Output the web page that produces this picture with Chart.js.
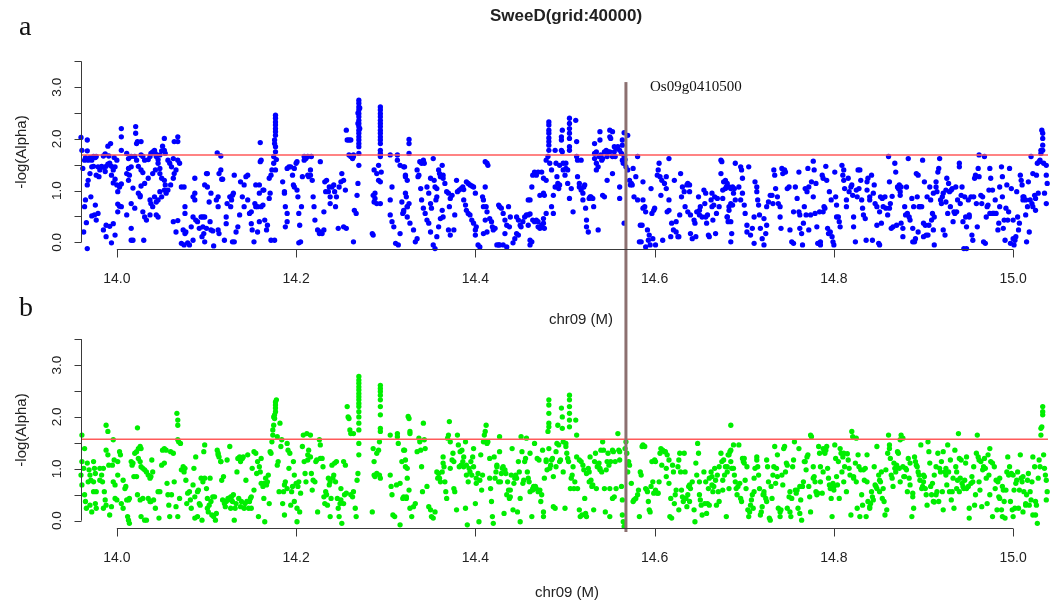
<!DOCTYPE html>
<html lang="en">
<head>
<meta charset="UTF-8">
<title>SweeD(grid:40000)</title>
<script src="https://cdn.jsdelivr.net/npm/chart.js@4.4.1/dist/chart.umd.min.js"></script>
<style>
  html, body { margin:0; padding:0; background:#fff; }
  body { width:1052px; height:604px; position:relative; overflow:hidden; font-family:"Liberation Sans", Arial, sans-serif; color:#222; }
  canvas { position:absolute; left:0; }
  #chartA { top:0; }
  #chartB { top:300px; }
  .txt { position:absolute; white-space:nowrap; }
  .serif { font-family:"Liberation Serif", "Times New Roman", serif; color:#111; }
  .title { left:446px; width:240px; top:7px; text-align:center; font-weight:bold; font-size:17px; line-height:17px; }
  .panel { font-size:28px; line-height:28px; left:19px; }
  .gene { font-size:15px; line-height:15px; left:650px; top:79px; }
  .ylab { font-size:15px; line-height:16px; width:120px; left:-39px; text-align:center; transform:rotate(-90deg); }
  .xlab { font-size:15px; line-height:15px; width:120px; text-align:center; }
</style>
</head>
<body>
<canvas id="chartA" width="1052" height="300"></canvas>
<canvas id="chartB" width="1052" height="304"></canvas>

<div class="txt title">SweeD(grid:40000)</div>
<div class="txt serif panel" style="top:12px">a</div>
<div class="txt serif panel" style="top:293px">b</div>
<div class="txt serif gene">Os09g0410500</div>
<div class="txt ylab" style="top:144px">-log(Alpha)</div>
<div class="txt ylab" style="top:422px">-log(Alpha)</div>
<div class="txt xlab" style="left:521px; top:311px">chr09 (M)</div>
<div class="txt xlab" style="left:507px; top:584px">chr09 (M)</div>

<script>
// axes, thresholds, gene position
const xMin = 13.96, xMax = 15.0389;
const xTicks = [14.0, 14.2, 14.4, 14.6, 14.8, 15.0];
const yTicks = [0, 0.5, 1, 1.5, 2, 2.5, 3, 3.5];
const yTickLabels = ['0.0', '', '1.0', '', '2.0', '', '3.0', ''];
const thrA = 1.69;
const thrB = 1.57;
const geneX = 14.568;

// panel a (blue) : [position Mb, -log(Alpha)]
const aSeg1 = [
[13.960,2.03],[13.961,1.78],[13.964,1.59],[13.962,1.43],[13.967,1.98],[13.967,1.77],[13.965,1.64],[13.968,1.59],[13.970,1.64],[13.972,1.59],[13.974,1.66],[13.976,1.64],[13.977,1.66],[13.979,1.46],[13.974,1.47],[13.972,1.46],[13.970,1.33],[13.968,1.20],[13.967,1.11],[13.965,0.82],[13.964,0.69],[13.971,0.88],[13.976,0.72],[13.975,0.53],[13.972,0.51],[13.966,0.38],[13.963,0.20],[13.967,-0.12],[13.977,0.43],[13.979,0.56],[13.985,0.24],[13.988,0.33],[13.992,0.31],[13.988,0.11],[13.994,-0.01],[13.998,0.14],[13.977,1.30],[13.980,1.27],[13.981,1.40],[13.983,1.47],[13.985,1.45],[13.987,1.37],[13.988,1.47],[13.990,1.51],[13.992,1.53],[13.994,1.47],[13.991,1.67],[13.985,1.67],[13.987,1.71],[13.990,1.86],[13.993,1.91],[13.997,1.64],[14.000,1.59],[13.998,1.46],[13.996,1.40],[13.994,1.30],[13.998,1.22],[13.996,1.15],
[14.000,1.11],[14.003,1.07],[14.005,1.13],[14.001,0.98],[14.001,0.74],[14.003,0.70],[14.005,0.69],[14.001,0.59],[13.996,0.36],[14.011,0.53],[14.005,2.20],[14.005,2.04],[14.005,1.78],[14.011,1.72],[14.013,1.62],[14.016,1.66],[14.016,1.46],[14.013,1.43],[14.011,1.33],[14.014,1.30],[14.013,1.20],[14.018,1.05],[14.016,0.75],[14.020,0.66],[14.024,0.95],[14.026,0.88],[14.027,1.09],[14.031,1.14],[14.035,1.24],[14.029,1.35],[14.027,1.40],[14.024,1.47],[14.022,1.59],[14.020,1.66],[14.021,2.24],[14.021,2.11],[14.023,1.95],[14.027,1.95],[14.022,1.91],[14.027,1.69],[14.029,1.66],[14.031,1.59],[14.035,1.60],[14.037,1.66],[14.038,1.72],[14.040,1.75],[14.042,1.78],[14.043,1.72],[14.044,1.66],[14.046,1.60],[14.048,1.69],[14.050,1.77],[14.051,1.86],[14.053,2.01],[14.053,1.78],[14.054,1.72],[14.046,1.53],[14.048,1.43],[14.043,1.40],[14.040,1.33],[14.048,1.33],[14.050,1.24],[14.053,1.20],[14.054,1.11],[14.057,1.01],[14.060,1.11],[14.063,1.24],[14.064,1.33],[14.066,1.40],[14.061,1.46],[14.059,1.53],[14.057,1.59],[14.063,1.62],[14.064,1.95],[14.068,1.95],[14.068,2.04],[14.068,1.59],[14.070,1.53],[14.048,0.98],[14.050,0.88],[14.046,0.82],[14.044,0.78],[14.040,0.69],[14.044,0.53],[14.046,0.49],[14.037,0.53],[14.033,0.43],[14.031,0.49],[14.029,0.59],[14.026,0.91],[14.037,0.82],[14.038,0.75],[14.042,0.88],[14.053,1.01],[14.055,0.95],[14.016,0.04],[14.018,0.04],[14.030,0.04],[14.016,0.27],
[14.063,0.40],[14.066,0.20],[14.068,0.42],[14.072,1.07],[14.075,1.07],[14.076,0.69],[14.076,0.56],[14.074,0.24],[14.076,0.17],[14.077,0.20],[14.072,-0.02],[14.075,-0.05],[14.079,-0.01],[14.081,-0.05],[14.085,0.04],[14.083,0.30],[14.085,0.49],[14.085,0.88],[14.087,0.95],[14.087,0.82],[14.087,1.24],[14.088,0.43],[14.090,0.40],[14.092,0.27],[14.094,0.49],[14.096,0.49],[14.098,0.49],[14.096,0.30],[14.097,0.17],[14.095,0.11],[14.098,0.01],[14.100,0.27],[14.100,1.33],[14.101,1.33],[14.098,1.11],[14.101,1.07],[14.105,0.95],[14.103,0.78],[14.104,0.40],[14.105,0.24],[14.107,0.22],[14.108,-0.07],[14.111,0.82],[14.112,1.73],[14.113,0.69],[14.113,0.88],[14.114,1.33],[14.116,1.40],[14.116,1.67],[14.117,1.22],[14.118,1.22],[14.113,0.24],[14.114,0.17],[14.120,0.04],[14.122,0.36],[14.122,0.49],[14.123,0.75],[14.126,0.88],[14.127,0.69],[14.128,0.82],[14.129,0.91],[14.130,0.95],[14.131,1.30],[14.133,0.20],[14.131,0.01],[14.129,0.01],[14.135,0.30],[14.137,0.53],[14.138,1.17],[14.140,0.88],[14.142,0.69],[14.142,1.11],[14.144,1.27],[14.146,1.30],[14.146,0.82],[14.148,0.56],[14.150,0.59],[14.150,0.36],[14.151,0.24],[14.153,0.01],[14.154,0.75],[14.155,0.69],[14.155,1.11],[14.157,0.69],[14.157,0.20],[14.159,0.95],[14.159,1.11],[14.159,0.40],[14.161,1.59],[14.160,1.56],[14.160,1.93],[14.161,0.69],[14.163,0.72],[14.163,1.01],[14.164,1.01],[14.165,0.43],[14.167,0.24],[14.168,0.33],[14.170,0.85],[14.171,0.95],[14.170,1.24],[14.172,1.30],[14.172,0.04],[14.176,0.04],[14.173,1.40],[14.175,1.53],[14.175,1.66],[14.176,1.91],[14.176,1.98],
[14.177,2.07],[14.177,2.14],[14.177,2.20],[14.177,2.27],[14.177,2.33],[14.177,2.40],[14.177,2.46],[14.177,1.75],[14.178,1.60],[14.177,1.40],[14.177,1.85]
];
const aSeg2 = [
[14.185,1.17],[14.187,0.98],[14.187,0.95],[14.188,0.69],[14.190,0.40],[14.188,0.30],[14.190,0.56],[14.190,1.43],[14.192,1.46],[14.194,1.46],[14.196,1.30],[14.197,1.11],[14.198,1.07],[14.198,1.43],[14.200,1.53],[14.201,1.56],[14.201,1.01],[14.202,0.88],[14.203,0.56],[14.204,0.33],[14.203,-0.01],[14.205,0.01],[14.206,0.69],[14.207,1.27],[14.209,1.59],[14.209,1.66],[14.211,1.62],[14.213,1.66],[14.213,1.30],[14.214,1.27],[14.216,1.40],[14.216,1.30],[14.217,1.66],[14.218,1.20],[14.219,0.88],[14.220,0.69],[14.221,0.43],[14.224,0.24],[14.226,0.17],[14.227,1.56],[14.227,0.20],[14.229,0.17],[14.231,0.24],[14.231,0.59],[14.232,1.17],[14.233,0.98],[14.234,1.20],[14.236,0.98],[14.237,1.07],[14.238,0.88],[14.238,0.75],[14.240,1.07],[14.242,1.11],[14.243,0.98],[14.244,0.69],[14.245,0.88],[14.247,0.27],[14.248,1.07],[14.250,1.17],[14.251,1.33],[14.253,1.20],[14.253,0.30],[14.255,1.01],[14.256,0.27],[14.256,2.17],[14.257,1.98],[14.259,1.98],[14.259,1.69],[14.261,1.98],[14.261,1.66],[14.263,1.62],[14.264,1.66],[14.264,0.01],[14.264,1.69],[14.265,0.62],[14.267,0.56],[14.268,0.91],[14.269,1.14],[14.270,1.49],[14.270,1.72],
[14.270,1.85],[14.270,1.91],[14.270,1.98],[14.270,2.04],[14.270,2.11],[14.270,2.17],[14.270,2.24],[14.270,2.30],[14.270,2.36],[14.270,2.43],[14.270,2.49],[14.270,2.56],[14.270,2.62],[14.270,2.69],[14.270,2.75],[14.269,2.30],[14.269,2.50],[14.271,2.20],[14.271,2.60],
[14.285,0.17],[14.286,0.14],[14.287,1.40],[14.286,0.91],[14.287,0.78],[14.288,0.85],[14.288,0.95],[14.290,0.75],[14.290,1.33],[14.292,1.20],[14.292,1.49],
[14.294,1.66],[14.294,1.72],[14.294,1.78],[14.294,1.91],[14.294,1.98],[14.294,2.04],[14.294,2.11],[14.294,2.17],[14.294,2.24],[14.294,2.30],[14.294,2.36],[14.294,2.43],[14.294,2.49],[14.294,2.56],[14.294,2.62],[14.294,1.17],[14.294,0.75],[14.295,1.36],
[14.305,1.69],[14.307,1.07],[14.305,0.82],[14.305,0.53],[14.307,0.40],[14.309,0.30],[14.311,-0.02],[14.313,1.69],[14.313,1.59],[14.314,-0.05],[14.316,1.49],[14.316,0.17],[14.318,0.78],[14.319,0.56],[14.320,0.62],[14.321,1.46],[14.322,1.30],[14.323,0.88],[14.324,0.69]
];
const aSeg3 = [
[14.320,1.46],[14.322,1.27],[14.324,1.20],[14.326,1.99],[14.326,1.91],[14.326,1.72],[14.324,0.69],[14.326,0.75],[14.322,0.95],[14.320,0.59],[14.324,0.49],[14.327,0.37],[14.331,0.24],[14.333,0.01],[14.335,0.07],[14.336,1.27],[14.337,1.30],[14.335,1.40],[14.338,1.56],[14.340,1.53],[14.342,1.59],[14.343,1.53],[14.339,1.04],[14.340,0.82],[14.342,0.66],[14.344,0.56],[14.346,1.07],[14.348,0.95],[14.350,1.24],[14.350,0.75],[14.351,0.66],[14.353,1.62],[14.354,1.20],[14.355,1.07],[14.357,1.04],[14.356,0.82],[14.357,0.88],[14.359,1.40],[14.360,1.33],[14.361,1.27],[14.363,1.49],[14.364,1.30],[14.364,1.24],[14.366,1.14],[14.363,0.62],[14.364,0.49],[14.361,0.46],[14.359,0.30],[14.357,0.11],[14.353,-0.05],[14.355,-0.12],[14.350,0.20],[14.348,0.37],[14.346,0.43],
[14.368,0.98],[14.370,0.95],[14.372,0.85],[14.374,0.91],[14.371,0.69],[14.370,0.24],[14.372,0.14],[14.376,0.24],[14.377,0.53],[14.379,1.20],[14.380,0.98],[14.382,1.01],[14.384,1.04],[14.386,1.07],[14.387,1.02],[14.387,0.82],[14.389,0.72],[14.390,1.17],[14.392,1.14],[14.394,1.11],[14.396,1.09],[14.398,1.07],[14.400,0.95],[14.390,0.62],[14.392,0.56],[14.394,0.53],[14.396,0.43],[14.398,0.37],[14.400,0.24],[14.401,0.30],[14.400,0.14],[14.403,-0.05],[14.405,-0.09],[14.408,0.88],[14.409,0.82],[14.411,1.07],[14.411,1.56],[14.413,1.53],[14.414,1.49],[14.409,0.69],[14.412,0.69],[14.413,0.59],[14.411,0.43],[14.409,0.17],[14.413,0.20],[14.416,0.46],[14.418,0.40],[14.419,0.30],[14.420,0.24],[14.422,0.27],[14.424,-0.05],[14.426,-0.05],[14.427,-0.05],[14.426,0.72],[14.427,0.69],[14.429,0.66],[14.431,0.56],[14.433,0.43],[14.435,0.33],[14.437,0.69],[14.439,0.49],[14.438,0.30],[14.433,0.17],[14.431,-0.05],[14.435,-0.09],
[14.446,0.49],[14.448,0.43],[14.450,0.33],[14.451,0.30],[14.446,0.17],[14.448,0.14],[14.444,0.07],[14.442,-0.01],[14.453,0.40],[14.455,0.49],[14.457,0.53],[14.459,0.53],[14.461,0.55],[14.459,0.82],[14.461,0.82],[14.459,0.33],[14.461,0.04],[14.463,0.01],[14.461,-0.05],[14.464,0.43],[14.466,0.40],[14.468,0.43],[14.470,0.40],[14.470,0.30],[14.472,0.27],[14.474,0.33],[14.476,0.37],[14.476,0.46],[14.477,0.27],[14.479,0.56],[14.463,1.07],[14.464,1.30],[14.466,1.36],[14.468,1.30],[14.470,1.36],[14.474,1.36],[14.472,0.91],[14.476,0.95],[14.477,0.91],[14.476,1.24],[14.479,1.20],[14.479,1.59],[14.481,1.66],
[14.482,1.78],[14.482,1.88],[14.482,1.95],[14.482,2.02],[14.482,2.11],[14.482,2.17],[14.482,2.27],[14.482,2.33],
[14.483,1.53],[14.485,1.40],[14.487,0.91],[14.485,0.69],[14.487,0.56],[14.489,1.07],[14.489,1.78],[14.490,1.53],[14.491,1.27],[14.492,1.14],[14.493,1.04],[14.494,1.11],[14.494,1.49],[14.496,1.78],[14.496,1.98],[14.496,2.04],[14.497,2.17],[14.497,1.75],[14.498,1.53],[14.498,1.40],[14.500,1.30],[14.501,1.53],[14.501,1.43],[14.503,1.14],[14.503,1.40],
[14.505,2.40],[14.505,2.30],[14.505,2.20],[14.505,2.11],[14.505,2.01],[14.505,1.85],[14.505,1.78],[14.505,0.85],
[14.507,1.04],[14.509,0.59],[14.512,2.36],[14.513,1.95],[14.513,1.66],[14.514,1.59],[14.514,1.27],[14.516,1.14],[14.516,1.07],[14.518,1.59],[14.518,1.01],[14.520,0.95],[14.520,0.82],[14.521,1.07],[14.522,1.11],[14.523,0.66],[14.524,0.43],[14.524,0.30],[14.526,0.20],[14.527,0.85],[14.528,0.88],[14.529,0.88],[14.531,0.85],[14.532,0.69],[14.533,1.91],[14.533,1.72],[14.533,1.62],[14.535,1.75],[14.535,1.53],[14.535,1.40],[14.537,1.46],[14.537,0.24],[14.539,1.98],[14.539,2.14],[14.538,1.66],[14.540,1.69],[14.541,1.59],[14.542,1.62],[14.542,0.91],[14.544,0.88],[14.544,1.75],[14.546,1.78],[14.547,1.20],[14.547,1.66],[14.548,1.75],[14.550,1.75],[14.550,2.04],[14.550,2.17],[14.551,2.01],[14.553,2.14],[14.553,1.66],[14.553,1.33],[14.555,1.85],[14.555,1.75],[14.556,1.66],[14.557,1.82],[14.559,1.85],[14.561,1.07],[14.561,0.85],[14.561,1.78],[14.563,1.72],[14.564,1.88],[14.564,1.98],[14.564,1.59],[14.565,1.53],[14.566,2.12],[14.566,1.66],[14.566,0.37],[14.567,1.60],[14.568,1.46],[14.570,2.07],
[14.570,1.40],[14.572,1.20],[14.573,1.11],[14.574,1.14],[14.575,1.11],[14.576,1.43],[14.577,0.88],[14.579,1.27],[14.581,1.66],[14.581,0.82],[14.583,0.01],[14.584,0.33],[14.585,0.01],[14.586,0.33],[14.587,0.82],[14.587,1.17],[14.587,0.66],[14.589,0.69],[14.590,0.59],[14.590,-0.09],[14.592,0.24],[14.593,0.04],[14.594,0.14],[14.595,-0.05],[14.596,1.04],[14.597,0.56],[14.598,0.07],[14.599,0.62],[14.600,0.66],[14.601,-0.05],[14.603,1.30],[14.604,1.40],[14.605,1.53],[14.606,1.27],[14.607,0.91],[14.608,1.20],[14.609,0.04],[14.611,1.14],[14.613,1.27],[14.613,1.04],[14.614,0.59],[14.616,0.62],[14.616,0.82],[14.616,1.62],[14.618,0.11],[14.619,0.37],[14.621,0.24],[14.622,1.20],[14.624,0.40],[14.624,0.20],[14.626,0.11],[14.627,0.11],[14.628,0.53],[14.629,1.33],[14.630,0.88],[14.631,1.07],[14.633,0.98],[14.634,0.69],[14.636,1.11],[14.637,1.14],[14.637,0.59],[14.639,1.11],[14.639,0.98],[14.640,0.53],[14.640,0.17],[14.642,0.07],[14.644,0.43],[14.645,0.37],[14.646,0.11],[14.647,0.59],[14.649,0.88],[14.650,0.62],[14.650,0.53],[14.651,0.69],[14.653,0.49],[14.655,1.01],[14.656,0.75],[14.657,0.95],[14.657,0.49],[14.658,0.37],[14.659,0.53],[14.660,0.14],[14.661,0.11],[14.663,0.82],[14.664,0.69],[14.664,0.95],[14.665,0.43],[14.666,0.72],[14.667,0.88],[14.668,0.17],[14.669,0.56],[14.670,0.85],[14.672,0.69],[14.674,1.59],[14.674,1.33],[14.675,1.56],[14.676,1.01],[14.676,0.85],[14.677,1.17],[14.679,1.04],[14.679,1.20],[14.680,1.07],[14.681,0.49],[14.682,0.40],[14.683,0.69],[14.685,0.01],[14.686,0.17]
];
const aSeg4 = [
[14.681,1.14],[14.683,1.07],[14.685,1.04],[14.687,1.07],[14.688,0.95],[14.689,1.04],[14.690,0.82],[14.685,0.75],[14.687,0.72],[14.683,0.62],[14.681,0.49],[14.685,0.40],[14.690,1.53],[14.696,1.46],[14.697,1.40],[14.698,1.24],[14.694,1.07],[14.698,0.95],[14.696,0.82],[14.700,0.72],[14.701,0.56],[14.703,0.33],[14.705,1.46],[14.703,0.20],[14.707,0.14],[14.709,0.27],[14.711,0.49],[14.711,-0.02],[14.712,1.17],[14.714,1.07],[14.714,0.98],[14.715,0.82],[14.716,0.72],[14.717,0.53],[14.718,0.27],[14.720,0.07],[14.722,0.46],[14.722,-0.05],[14.724,0.17],[14.725,0.33],[14.725,0.69],[14.727,0.78],[14.729,0.91],[14.731,0.91],[14.732,0.75],[14.733,1.40],[14.734,1.30],[14.735,1.04],[14.737,0.88],[14.738,0.75],[14.740,0.69],[14.740,0.49],[14.741,0.27],[14.742,1.43],[14.743,1.33],[14.745,1.40],[14.746,1.36],[14.748,1.04],[14.750,1.07],[14.751,0.24],[14.753,0.01],[14.755,-0.02],[14.755,0.59],[14.757,1.07],[14.759,0.85],[14.761,1.36],[14.761,0.59],[14.762,0.53],[14.762,0.27],[14.764,0.17],[14.765,-0.05],[14.766,0.37],[14.767,0.69],[14.768,1.04],[14.769,0.53],[14.770,0.98],[14.771,1.43],[14.772,1.07],[14.772,0.24],[14.774,0.53],[14.775,1.17],[14.777,0.88],[14.777,1.57],[14.778,1.40],[14.779,0.56],[14.780,1.14],[14.781,0.30],[14.782,-0.02],[14.783,-0.02],[14.784,0.59],[14.785,0.01],[14.785,-0.05],[14.787,1.30],[14.788,0.59],[14.788,1.24],[14.789,0.69],[14.790,0.66],[14.791,1.47],[14.792,1.20],[14.793,0.27],[14.794,0.17],[14.795,0.98],[14.796,0.20],[14.797,0.82],[14.798,0.11],[14.799,0.01],[14.800,-0.05],
[14.801,1.36],[14.802,0.88],[14.803,0.72],[14.803,0.49],[14.805,0.49],[14.806,0.40],[14.807,0.30],[14.809,1.49],[14.810,1.30],[14.811,1.40],[14.811,1.20],[14.812,1.04],[14.814,0.82],[14.814,0.69],[14.816,1.24],[14.817,0.98],[14.819,1.07],[14.820,1.11],[14.821,0.91],[14.822,0.49],[14.822,0.30],[14.824,0.01],[14.825,1.01],[14.826,0.88],[14.827,1.40],[14.828,1.04],[14.829,1.40],[14.830,1.20],[14.831,0.82],[14.832,0.66],[14.833,0.53],[14.835,0.46],[14.836,0.04],[14.837,1.17],[14.837,1.01],[14.838,1.24],[14.840,0.88],[14.840,0.82],[14.842,1.30],[14.843,0.04],[14.844,0.95],[14.845,1.11],[14.846,0.75],[14.848,0.69],[14.848,0.33],[14.850,-0.02],[14.851,-0.05],[14.851,0.59],[14.852,0.88],[14.853,0.37],[14.854,0.85],[14.855,0.69],[14.857,0.88],[14.858,0.66],[14.860,0.53],[14.861,1.66],[14.862,0.66],[14.862,1.17],[14.863,0.75],[14.864,0.27],[14.865,0.89],[14.866,0.30],[14.868,1.53],[14.869,1.36],[14.870,0.33],[14.871,1.07],[14.872,1.04],[14.873,1.11],[14.874,0.98],[14.874,0.91],[14.875,1.07],[14.875,0.37],[14.877,0.27],[14.877,0.11],[14.879,0.69],[14.880,0.53],[14.881,1.07],[14.882,0.56],[14.883,1.62],[14.884,0.49],[14.885,0.43],[14.887,0.85],[14.888,0.27],[14.888,0.01],[14.889,0.69],[14.890,0.01],[14.891,0.07],[14.892,1.33],[14.893,0.88],[14.894,1.30],[14.894,0.20],[14.895,0.69],[14.896,0.69],[14.898,0.69],[14.899,1.59],[14.900,0.37],[14.900,0.11],
[14.901,1.17],[14.902,0.33],[14.903,0.14],[14.904,0.88],[14.905,0.14],[14.906,0.33],[14.907,1.07],[14.908,0.82],[14.909,0.43],[14.910,0.56],[14.911,0.95],[14.911,0.24],[14.912,-0.05],[14.912,0.49],[14.914,1.07],[14.914,1.17],[14.915,0.98],[14.916,1.36],[14.917,1.43],[14.918,1.62],[14.919,0.82],[14.920,0.75],[14.921,0.88],[14.922,0.24],[14.922,0.95],[14.924,0.14],[14.925,0.78],[14.925,1.01],[14.926,1.24],[14.927,0.56],[14.928,1.14],[14.929,0.98],[14.930,0.69],[14.931,1.01],[14.932,1.04],[14.933,0.40],[14.934,0.59],[14.935,0.56],[14.936,1.07],[14.937,0.59],[14.938,0.82],[14.940,1.53],[14.940,1.46],[14.941,0.75],[14.942,0.91],[14.943,1.07],[14.944,0.40],[14.945,-0.12],[14.946,0.88],[14.947,0.49],[14.948,-0.12],[14.948,0.30],[14.950,0.82],[14.951,0.53],[14.951,0.49],[14.953,0.88],[14.954,0.14],[14.955,0.04],[14.956,0.88],[14.957,1.24],[14.958,1.30],[14.959,0.75],[14.960,0.30],[14.961,1.43],[14.962,1.69],[14.962,1.27],[14.964,0.91],[14.965,0.75],[14.966,0.88],[14.967,0.01],[14.968,1.66],[14.969,-0.02],[14.970,0.49],[14.971,0.69],[14.972,0.72],[14.973,1.01],[14.974,0.56],[14.974,1.43],[14.975,1.24],[14.977,0.56],[14.977,1.01],[14.978,0.56],[14.979,0.56],[14.980,0.82],[14.981,0.56],[14.983,0.24],[14.984,0.37],[14.985,0.69],[14.985,1.07],[14.987,1.46],[14.988,1.27],[14.988,0.88],[14.989,0.27],[14.990,0.43],[14.991,0.04],[14.992,0.66],[14.993,1.11],[14.994,0.43],[14.995,0.59],[14.996,1.43],[14.997,-0.02],[14.998,1.04],
[15.000,0.43],[15.000,0.07],[15.001,-0.05],[15.002,0.04],[15.003,0.11],[15.004,0.98],[15.005,0.49],[15.006,0.24],[15.007,0.37],[15.008,1.30],[15.009,1.20],[15.010,1.11],[15.011,0.82],[15.011,0.88],[15.012,0.88],[15.014,0.53],[15.014,0.82],[15.015,0.01],[15.016,0.69],[15.017,1.17],[15.018,0.20],[15.019,0.82],[15.020,1.66],[15.021,0.75],[15.022,0.69],[15.022,1.33],[15.024,0.91],[15.025,0.85],[15.025,0.62],[15.026,1.30],[15.027,1.53],[15.028,0.95],[15.029,1.56],[15.030,1.59],[15.031,1.78],[15.031,1.72],[15.032,2.17],[15.033,2.11],[15.033,2.01],[15.033,1.88],[15.033,1.78],[15.034,1.53],[15.035,0.95],[15.037,1.49],[15.037,1.30],[15.038,1.14],[15.037,0.75]
];

// panel b (green)
const bSeg1 = [
[13.961,1.65],[13.964,1.39],[13.961,1.14],[13.963,1.01],[13.960,0.88],[13.961,0.69],[13.964,0.50],[13.965,0.37],[13.966,0.24],[13.970,0.30],[13.967,1.11],[13.969,0.98],[13.970,0.88],[13.971,0.78],[13.968,0.75],[13.974,1.14],[13.975,1.01],[13.976,0.91],[13.974,0.75],[13.977,0.56],[13.974,0.56],[13.976,0.33],[13.972,0.17],[13.977,0.24],[13.981,1.01],[13.983,0.88],[13.984,0.75],[13.985,1.01],[13.981,0.78],[13.987,0.40],[13.985,0.24],[13.988,0.30],[13.986,0.56],[13.988,1.84],[13.990,1.72],[13.988,1.36],[13.990,1.27],[13.991,1.07],[13.992,0.11],[13.994,0.27],[13.995,1.07],[13.996,1.56],[13.997,1.17],[13.996,0.75],[13.998,0.69],[13.998,0.43],[14.000,0.40],[14.001,0.88],[14.001,1.14],[14.003,1.33],[14.004,1.27],[14.005,0.33],[14.007,0.24],[14.007,0.78],[14.009,0.62],[14.010,0.66],[14.011,0.40],[14.012,0.08],[14.013,0.01],[14.014,-0.05],[14.013,0.40],[14.014,0.43],[14.016,1.14],[14.017,1.07],[14.018,1.11],[14.019,0.85],[14.020,1.30],[14.022,1.33],[14.023,1.79],[14.024,1.39],[14.026,1.43],[14.027,1.39],[14.024,1.20],[14.026,1.14],[14.027,1.04],[14.029,1.01],[14.031,0.98],[14.033,0.94],[14.035,0.88],[14.037,0.82],[14.038,0.85],[14.040,0.94],[14.039,1.17],[14.022,0.85],[14.023,0.50],[14.026,0.40],[14.027,0.08],[14.029,0.43],[14.031,0.01],[14.033,0.01],[14.035,0.43],[14.037,0.37],[14.038,0.37],[14.041,0.40],[14.043,0.24],[14.046,0.56],[14.047,0.05],[14.048,0.56],[14.050,1.07],[14.051,1.36],[14.053,1.11],[14.053,1.39],[14.055,1.36],[14.056,0.72],[14.057,0.50],[14.058,0.30],[14.059,0.08],[14.060,1.33],[14.061,0.50],[14.063,1.30],[14.064,0.75],[14.066,0.27],[14.067,2.07],[14.068,1.94],[14.068,1.84],[14.068,1.56],[14.069,1.52],[14.071,1.49],[14.070,0.43],[14.068,0.08],
[14.072,0.98],[14.074,1.04],[14.075,0.94],[14.076,1.01],[14.077,0.78],[14.078,0.33],[14.079,0.53],[14.081,0.56],[14.082,0.40],[14.083,0.24],[14.085,0.69],[14.086,1.01],[14.087,0.46],[14.087,0.05],[14.088,1.23],[14.090,0.56],[14.090,0.08],[14.091,0.59],[14.092,0.33],[14.093,0.30],[14.094,0.82],[14.095,0.01],[14.096,0.75],[14.097,1.33],[14.098,0.82],[14.098,1.46],[14.100,0.62],[14.101,0.43],[14.101,0.24],[14.102,0.17],[14.103,0.30],[14.104,0.82],[14.105,0.37],[14.106,0.11],[14.107,0.46],[14.108,0.08],[14.109,0.46],[14.110,0.01],[14.111,0.14],[14.112,1.36],[14.113,1.27],[14.113,1.30],[14.114,1.23],[14.116,1.14],[14.116,1.14],[14.117,0.78],[14.118,0.40],[14.119,0.85],[14.120,0.33],[14.121,0.27],[14.122,0.37],[14.123,1.17],[14.124,0.40],[14.124,0.43],[14.126,1.43],[14.127,0.46],[14.127,0.24],[14.128,0.46],[14.129,0.37],[14.130,0.50],[14.131,0.01],[14.132,0.24],[14.133,0.33],[14.134,0.94],[14.135,1.20],[14.136,0.43],[14.137,1.23],[14.138,0.27],[14.138,1.14],[14.139,0.37],[14.140,1.20],[14.141,1.23],[14.142,0.24],[14.143,0.33],[14.144,0.78],[14.145,0.37],[14.146,1.27],[14.147,0.24],[14.148,0.37],[14.149,0.43],[14.150,0.46],[14.150,0.24],[14.151,1.01],[14.153,1.33],[14.153,0.59],[14.155,1.30],[14.156,0.91],[14.157,1.14],[14.158,0.08],[14.159,1.04],[14.160,0.94],[14.161,0.72],[14.161,1.20],[14.163,0.66],[14.164,0.43],[14.164,0.72],[14.165,-0.02],[14.166,0.82],[14.167,0.69],[14.168,0.75],[14.169,0.88],[14.170,0.33],[14.171,1.33],[14.172,1.30],[14.173,1.52],[14.174,1.65],[14.174,1.75],[14.175,1.84],[14.175,2.00],[14.176,1.97],[14.176,2.04],[14.177,2.10],[14.177,2.17],[14.177,2.23],[14.177,2.29],[14.178,2.33],
[14.179,1.62],[14.179,1.07],[14.180,1.14],[14.181,0.56],[14.182,1.88],[14.183,1.43],[14.184,1.56],[14.185,0.33],[14.186,0.56],[14.187,0.11],[14.187,0.69],[14.188,0.75],[14.190,0.62],[14.190,1.49],[14.191,1.36],[14.192,1.01],[14.193,1.30],[14.194,0.30],[14.195,0.56],[14.196,0.66],[14.197,1.14],[14.198,0.88],[14.198,0.37],[14.200,0.72],[14.201,0.24],[14.201,-0.02],[14.202,0.66],[14.203,0.75],[14.204,0.17],[14.205,0.53],[14.207,1.43],[14.208,1.65],[14.209,1.14],[14.210,0.91],[14.211,0.75],[14.212,1.68],[14.213,1.27],[14.213,1.17],[14.214,1.36],[14.216,1.65],[14.216,1.23],[14.217,0.91],[14.218,0.59],[14.219,0.78],[14.221,0.75],[14.222,1.14],[14.223,1.17],[14.224,0.17],[14.226,1.56],[14.227,1.46],[14.227,1.20],[14.229,1.20],[14.230,1.04],[14.231,0.46],[14.232,0.33],[14.233,0.56],[14.234,0.50],[14.235,0.30],[14.236,0.82],[14.237,0.69],[14.238,0.08],[14.238,0.75],[14.239,0.43],[14.240,1.07],[14.241,0.82],[14.242,0.88],[14.243,1.11],[14.244,0.75],[14.245,1.14],[14.246,0.43],[14.247,0.24],[14.248,0.08],[14.249,0.33],[14.250,0.62],[14.250,0.40],[14.251,-0.05],[14.253,0.33],[14.253,1.14],[14.254,0.50],[14.255,1.07],[14.256,0.53],[14.257,2.20],[14.258,2.00],[14.259,1.97],[14.260,1.75],[14.261,1.68],[14.261,0.50],[14.263,0.46],[14.264,0.56],[14.264,1.68],[14.266,0.24],[14.267,0.08],[14.268,0.78],[14.269,0.91],
[14.270,2.78],[14.270,2.71],[14.270,2.65],[14.270,2.58],[14.270,2.52],[14.270,2.45],[14.270,2.39],[14.270,2.33],[14.270,2.26],[14.270,2.20],[14.270,2.10],[14.270,2.00],[14.270,1.88],[14.270,1.75],[14.270,1.49],[14.270,1.27],
[14.285,0.17],[14.286,1.39],[14.287,1.14],[14.287,0.88],[14.288,0.85],[14.290,0.91],[14.290,1.30],[14.292,1.36],[14.293,1.52],[14.293,0.88],
[14.294,2.61],[14.294,2.55],[14.294,2.49],[14.294,2.42],[14.294,2.33],[14.294,2.20],[14.294,2.04],[14.294,1.78],[14.294,1.72],[14.294,0.82],
[14.305,1.65],[14.305,0.88],[14.306,0.66],[14.307,0.50],[14.308,0.11],[14.310,0.08],[14.312,0.69],[14.313,1.68],[14.313,1.62],[14.314,1.49],[14.316,-0.08],[14.316,0.72],[14.318,1.14],[14.319,0.43],[14.321,1.36],[14.322,1.04],[14.323,0.46]
];
const bSeg2 = [
[14.320,1.36],[14.322,1.17],[14.324,1.01],[14.326,1.97],[14.325,2.01],[14.327,1.68],[14.327,1.72],[14.324,0.82],[14.326,0.59],[14.323,0.43],[14.320,0.46],[14.327,0.24],[14.329,0.08],[14.331,0.27],[14.333,0.33],[14.335,1.33],[14.337,1.59],[14.338,1.52],[14.339,1.36],[14.340,1.04],[14.341,0.56],[14.342,1.88],[14.343,1.56],[14.344,1.39],[14.346,0.66],[14.348,0.27],[14.350,0.21],[14.351,0.08],[14.353,0.05],[14.355,0.17],[14.357,0.94],[14.358,0.82],[14.359,0.91],[14.360,0.82],[14.361,0.75],[14.363,0.94],[14.364,1.11],[14.364,1.23],[14.365,1.04],[14.366,0.75],[14.367,0.56],[14.368,0.43],[14.369,1.59],[14.370,1.65],[14.371,1.91],[14.372,1.52],[14.372,1.01],[14.374,1.17],[14.375,1.30],[14.376,1.14],[14.376,0.62],[14.377,0.56],[14.379,0.21],[14.380,1.65],[14.381,1.46],[14.382,1.04],[14.383,1.33],[14.384,1.07],[14.385,1.36],[14.386,1.14],[14.387,1.23],[14.387,1.04],[14.389,1.52],[14.389,0.24],[14.390,1.07],[14.390,0.88],[14.391,-0.08],[14.392,0.75],[14.393,1.01],[14.394,0.94],[14.395,1.14],[14.396,0.88],[14.397,1.23],[14.398,1.39],[14.398,1.04],[14.400,0.33],[14.401,0.72],[14.401,0.82],[14.403,0.91],[14.404,-0.02],[14.405,0.78],[14.406,1.27],[14.407,0.59],[14.408,0.88],[14.409,1.52],[14.410,1.65],[14.411,1.72],[14.412,1.84],[14.413,1.52],[14.413,1.49],[14.414,1.52],[14.416,0.82],[14.416,1.20],[14.417,0.62],[14.418,0.37],[14.419,0.08],[14.420,-0.05],[14.421,1.23],[14.422,0.82],[14.423,0.94],[14.424,1.04],[14.424,1.07],[14.426,0.75],[14.427,1.33],[14.427,1.62],[14.428,0.75],[14.429,0.91],[14.430,1.01],[14.431,1.04],[14.432,0.14],[14.433,0.98],[14.434,0.91],[14.435,0.50],[14.436,0.75],[14.437,0.59],[14.438,0.43],[14.439,0.46],[14.439,0.59],[14.440,0.88],[14.441,1.39],[14.442,0.21],[14.443,0.72],[14.444,0.82],[14.445,0.88],[14.446,0.82],[14.447,0.17],[14.448,1.14],[14.449,0.94],[14.450,-0.02],[14.450,0.43],[14.451,1.62],[14.452,1.33],[14.453,0.72],[14.454,0.78],[14.455,1.14],[14.456,1.20],[14.457,1.59],[14.458,0.94],[14.459,0.82],[14.460,0.75],[14.461,1.30],[14.461,0.56],[14.463,0.08],[14.464,0.62],[14.464,0.59],[14.465,0.66],[14.466,1.49],[14.467,0.66],[14.468,0.62],[14.469,1.20],[14.470,0.56],[14.471,1.17],[14.472,0.59],[14.473,0.37],[14.474,0.50],[14.475,1.36],[14.476,0.17],[14.476,0.08],[14.477,0.82],[14.479,1.14],[14.479,1.17],[14.480,0.98],[14.481,1.72],
[14.482,2.33],[14.482,2.23],[14.482,2.07],[14.482,1.88],[14.482,1.81],[14.482,1.39],
[14.483,1.01],[14.484,1.07],[14.485,1.17],[14.486,1.20],[14.487,0.85],[14.487,0.27],[14.489,0.24],[14.490,1.04],[14.490,1.33],[14.491,1.49],[14.492,1.84],[14.493,1.46],[14.494,1.14],[14.495,1.17],[14.496,2.17],[14.497,2.00],[14.497,1.78],[14.498,1.52],[14.498,0.94],[14.500,0.24],[14.501,1.49],[14.501,1.43],[14.502,1.30],[14.503,1.20],[14.504,1.14],
[14.505,2.42],[14.505,2.33],[14.505,2.20],[14.505,2.07],[14.505,1.94],[14.505,1.81],
[14.506,0.62],[14.507,0.82],[14.508,0.88],[14.509,1.04],[14.510,0.62],[14.511,0.75],[14.512,1.94],[14.513,1.65],[14.513,1.23],[14.514,0.62],[14.516,0.21],[14.516,1.17],[14.517,0.08],[14.518,1.14],[14.519,0.11],[14.520,1.07],[14.521,0.98],[14.522,0.43],[14.523,0.14],[14.524,0.91],[14.524,0.08],[14.526,1.01],[14.527,0.75],[14.527,0.94],[14.528,1.23],[14.529,0.78],[14.530,0.66],[14.531,0.69],[14.532,0.21],[14.533,1.14],[14.534,1.30],[14.535,0.62],[14.536,1.04],[14.537,1.07],[14.538,1.11],[14.539,1.01],[14.539,0.98],[14.540,1.36],[14.541,0.94],[14.542,1.52],[14.543,1.36],[14.544,0.62],[14.545,0.17],[14.546,0.98],[14.547,1.14],[14.548,1.30],[14.549,1.07],[14.550,0.08],[14.550,0.62],[14.551,1.14],[14.553,1.36],[14.553,0.43],[14.554,1.33],[14.555,0.46],[14.556,1.14],[14.557,0.62],[14.559,1.68],[14.560,1.36],[14.561,1.33],[14.561,1.17],[14.563,0.66],[14.564,0.40],[14.564,0.11],[14.565,-0.02],[14.566,-0.11],[14.567,1.39],[14.568,1.52],[14.569,1.30],[14.570,0.94],[14.571,1.14],[14.572,1.07],[14.574,0.72],[14.576,0.37],[14.577,0.40],[14.579,0.43],[14.581,0.50],[14.582,0.59],[14.583,0.08],[14.584,0.94],[14.585,0.88],[14.586,1.43],[14.587,1.46],[14.589,1.43],[14.590,0.62],[14.591,0.60],[14.592,0.56],[14.593,0.37],[14.594,0.21],[14.595,0.17],[14.596,0.66],[14.597,1.14],[14.598,0.75],[14.599,0.53],[14.600,1.17],
[14.601,0.59],[14.601,1.14],[14.603,0.53],[14.604,0.53],[14.605,0.75],[14.606,1.30],[14.607,1.39],[14.608,1.07],[14.609,1.36],[14.611,1.33],[14.612,1.33],[14.613,0.85],[14.613,1.01],[14.614,1.27],[14.616,1.17],[14.616,0.72],[14.617,0.08],[14.618,0.43],[14.619,0.05],[14.620,1.07],[14.621,0.94],[14.622,0.33],[14.623,0.50],[14.624,0.59],[14.626,1.04],[14.627,1.17],[14.627,0.21],[14.628,1.30],[14.629,0.94],[14.630,0.59],[14.631,0.46],[14.632,0.37],[14.633,1.30],[14.634,0.94],[14.635,0.43],[14.636,0.27],[14.637,0.50],[14.638,0.66],[14.639,0.37],[14.639,0.69],[14.640,0.62],[14.642,0.75],[14.644,0.21],[14.645,-0.02],[14.646,1.11],[14.647,0.88],[14.648,1.49],[14.649,1.30],[14.650,0.75],[14.650,0.50],[14.651,0.40],[14.652,0.30],[14.653,0.11],[14.655,0.94],[14.656,0.33],[14.657,0.75],[14.658,0.14],[14.659,0.33],[14.660,0.62],[14.661,0.30],[14.661,0.82],[14.663,0.94],[14.664,0.69],[14.664,0.85],[14.665,0.56],[14.666,0.66],[14.667,1.01],[14.668,0.78],[14.669,0.30],[14.670,0.88],[14.671,0.56],[14.672,1.04],[14.672,0.37],[14.674,1.30],[14.675,1.14],[14.676,0.59],[14.676,0.78],[14.677,1.17],[14.678,0.88],[14.679,1.04],[14.680,0.08],[14.681,0.94],[14.682,1.27],[14.683,0.62],[14.685,1.84],[14.686,1.01]
];
const bSeg3 = [
[14.681,1.04],[14.683,1.27],[14.684,1.33],[14.685,1.14],[14.685,1.36],[14.688,1.46],[14.688,1.01],[14.689,0.88],[14.690,0.75],[14.691,0.62],[14.692,0.50],[14.693,0.66],[14.694,1.46],[14.695,0.72],[14.696,0.43],[14.697,0.37],[14.698,1.20],[14.699,1.14],[14.700,1.11],[14.700,1.20],[14.701,0.78],[14.702,0.62],[14.703,1.04],[14.704,0.21],[14.705,0.08],[14.706,0.17],[14.707,0.30],[14.708,0.40],[14.709,0.50],[14.710,0.24],[14.711,0.56],[14.711,0.82],[14.712,1.01],[14.714,1.23],[14.714,1.17],[14.715,1.04],[14.716,0.88],[14.717,0.62],[14.718,0.11],[14.719,0.17],[14.720,0.27],[14.721,0.50],[14.722,0.50],[14.722,0.56],[14.724,0.43],[14.725,0.37],[14.725,1.17],[14.726,1.04],[14.727,0.75],[14.728,0.05],[14.729,0.01],[14.730,0.66],[14.731,0.43],[14.732,0.88],[14.733,1.04],[14.734,1.43],[14.735,0.72],[14.736,1.01],[14.737,0.85],[14.737,1.27],[14.738,0.24],[14.740,0.17],[14.740,0.08],[14.741,0.21],[14.742,0.88],[14.743,0.69],[14.744,1.39],[14.745,1.43],[14.746,0.94],[14.747,1.11],[14.748,1.07],[14.748,0.24],[14.750,0.46],[14.751,0.56],[14.751,0.17],[14.752,0.08],[14.753,0.43],[14.754,1.04],[14.755,1.17],[14.756,1.52],[14.757,0.59],[14.758,0.53],[14.759,0.59],[14.760,0.24],[14.761,1.39],[14.762,0.66],[14.762,0.14],[14.763,0.40],[14.764,0.01],[14.765,0.66],[14.766,0.75],[14.767,1.14],[14.768,1.14],[14.769,0.98],[14.770,1.23],[14.771,1.27],[14.772,0.66],[14.773,0.46],[14.774,0.17],[14.774,1.65],[14.775,1.62],[14.777,1.04],[14.777,0.82],[14.778,0.85],[14.779,0.75],[14.780,0.56],[14.781,0.50],[14.782,0.53],[14.783,1.43],[14.784,1.30],[14.785,0.75],[14.785,1.04],[14.787,0.53],[14.788,0.94],[14.788,1.39],[14.789,1.33],[14.790,1.30],[14.791,1.36],[14.792,1.43],[14.793,1.01],[14.794,0.82],[14.795,0.69],[14.796,0.62],[14.797,0.43],[14.798,0.08],[14.799,0.72],[14.800,0.59],[14.800,0.66],
[14.801,1.46],[14.802,1.20],[14.803,0.85],[14.804,0.69],[14.805,1.14],[14.806,0.43],[14.807,1.39],[14.808,1.30],[14.809,0.94],[14.810,1.23],[14.811,0.75],[14.811,1.30],[14.812,1.04],[14.814,0.56],[14.815,1.29],[14.816,1.17],[14.817,1.01],[14.818,0.88],[14.819,0.11],[14.820,1.72],[14.821,1.62],[14.822,0.82],[14.822,0.85],[14.824,1.11],[14.825,0.75],[14.825,1.59],[14.826,0.24],[14.827,1.27],[14.828,1.04],[14.829,0.08],[14.830,0.98],[14.831,0.50],[14.832,0.30],[14.833,0.98],[14.834,0.78],[14.835,1.01],[14.836,0.08],[14.837,0.75],[14.837,1.27],[14.838,0.37],[14.840,0.27],[14.840,0.24],[14.841,0.33],[14.842,0.56],[14.843,0.46],[14.844,0.40],[14.845,1.04],[14.846,0.69],[14.847,0.66],[14.848,1.43],[14.848,0.62],[14.850,0.88],[14.851,0.56],[14.851,0.78],[14.852,0.75],[14.853,0.94],[14.854,0.43],[14.855,0.62],[14.856,0.37],[14.857,0.11],[14.858,0.98],[14.859,0.21],[14.860,1.30],[14.861,1.65],[14.862,1.39],[14.862,1.46],[14.863,1.20],[14.864,0.88],[14.865,0.82],[14.866,0.66],[14.867,1.11],[14.868,1.01],[14.869,0.94],[14.870,1.07],[14.871,1.33],[14.872,1.30],[14.873,1.01],[14.874,0.75],[14.874,1.56],[14.875,1.65],[14.877,1.59],[14.877,1.04],[14.878,0.85],[14.879,0.85],[14.880,1.01],[14.881,0.98],[14.882,0.56],[14.883,1.20],[14.884,0.82],[14.885,1.11],[14.885,0.69],[14.887,0.08],[14.888,0.53],[14.888,0.46],[14.889,0.24],[14.890,1.23],[14.891,1.14],[14.892,1.07],[14.893,1.04],[14.894,0.94],[14.895,0.88],[14.896,0.78],[14.897,1.46],[14.898,0.62],[14.899,0.66],[14.900,0.88],[14.900,0.75],
[14.901,0.85],[14.902,0.62],[14.903,0.50],[14.904,0.30],[14.905,1.52],[14.906,1.33],[14.907,1.11],[14.908,0.66],[14.909,0.50],[14.910,0.72],[14.911,0.37],[14.912,0.36],[14.912,0.88],[14.914,0.50],[14.914,1.04],[14.915,0.56],[14.916,1.30],[14.917,0.37],[14.918,1.01],[14.919,0.94],[14.920,1.14],[14.921,0.56],[14.922,1.33],[14.922,0.21],[14.924,0.94],[14.925,0.88],[14.925,1.01],[14.926,0.69],[14.927,1.46],[14.928,0.94],[14.929,0.56],[14.930,1.17],[14.931,0.40],[14.932,0.56],[14.933,0.82],[14.934,0.24],[14.935,1.36],[14.936,1.04],[14.937,0.94],[14.937,0.62],[14.938,0.78],[14.939,1.68],[14.940,0.56],[14.940,1.20],[14.941,0.82],[14.942,1.17],[14.943,0.72],[14.944,0.66],[14.945,0.62],[14.946,0.78],[14.947,1.11],[14.948,1.23],[14.948,0.62],[14.950,0.66],[14.951,0.05],[14.951,0.24],[14.953,0.72],[14.954,0.85],[14.955,0.75],[14.956,1.04],[14.957,0.30],[14.958,0.50],[14.959,1.30],[14.960,1.65],[14.961,1.23],[14.962,1.17],[14.962,0.75],[14.963,0.59],[14.964,1.14],[14.965,0.27],[14.966,0.98],[14.967,1.04],[14.968,1.20],[14.969,1.01],[14.970,0.82],[14.971,0.33],[14.972,1.27],[14.973,0.88],[14.974,0.50],[14.974,1.39],[14.975,1.14],[14.977,1.11],[14.977,0.08],[14.979,1.04],[14.980,0.62],[14.981,0.78],[14.982,0.21],[14.983,0.75],[14.984,0.46],[14.985,0.43],[14.985,0.82],[14.987,0.21],[14.988,0.08],[14.988,0.66],[14.989,0.59],[14.990,0.37],[14.991,0.05],[14.992,0.59],[14.993,0.94],[14.994,1.23],[14.995,0.88],[14.996,1.04],[14.997,0.37],[14.998,0.91],[14.999,0.21],
[15.000,0.88],[15.000,0.08],[15.001,0.59],[15.002,0.24],[15.003,0.72],[15.004,0.78],[15.005,0.94],[15.006,0.24],[15.007,0.59],[15.008,1.27],[15.009,0.82],[15.010,0.75],[15.011,0.85],[15.011,0.17],[15.012,0.56],[15.014,0.30],[15.014,0.33],[15.015,0.50],[15.016,0.78],[15.017,0.91],[15.018,0.30],[15.019,0.56],[15.020,0.40],[15.021,0.75],[15.022,0.11],[15.022,1.23],[15.024,1.04],[15.025,0.37],[15.025,0.11],[15.026,0.30],[15.027,-0.05],[15.028,0.82],[15.029,1.17],[15.030,1.04],[15.031,1.65],[15.031,1.78],[15.032,1.81],[15.033,2.04],[15.033,2.10],[15.033,2.20],[15.034,1.27],[15.035,1.01],[15.036,0.88],[15.037,0.78],[15.037,0.40],[15.038,0.56]
];

const ptsA = [...aSeg1, ...aSeg2, ...aSeg3, ...aSeg4];
const ptsB = [...bSeg1, ...bSeg2, ...bSeg3];

// R-style axes + gene marker line
const rAxes = {
  id: 'rAxes',
  afterDatasetsDraw(chart, args, opts) {
    const { ctx, chartArea, scales: { x, y } } = chart;
    ctx.save();
    // gene line
    const gx = x.getPixelForValue(geneX);
    const gTop = opts.geneFrom === null ? 0 : y.getPixelForValue(opts.geneFrom);
    const gBot = opts.geneTo === null ? chart.height : y.getPixelForValue(opts.geneTo);
    ctx.strokeStyle = '#8c7070';
    ctx.lineWidth = 3;
    ctx.beginPath();
    ctx.moveTo(gx, gTop);
    ctx.lineTo(gx, gBot);
    ctx.stroke();

    ctx.strokeStyle = '#3a3a3a';
    ctx.lineWidth = 1;
    ctx.fillStyle = '#222';
    // y axis
    const ax = Math.round(chartArea.left) + 0.5;
    ctx.beginPath();
    ctx.moveTo(ax, y.getPixelForValue(yTicks[0]));
    ctx.lineTo(ax, y.getPixelForValue(yTicks[yTicks.length - 1]));
    yTicks.forEach(v => {
      const py = Math.round(y.getPixelForValue(v)) + 0.5;
      ctx.moveTo(ax, py);
      ctx.lineTo(ax - 7, py);
    });
    ctx.stroke();
    ctx.font = '13.5px "Liberation Sans", Arial, sans-serif';
    ctx.textAlign = 'center';
    ctx.textBaseline = 'alphabetic';
    yTicks.forEach((v, i) => {
      if (!yTickLabels[i]) return;
      ctx.save();
      ctx.translate(ax - 21, y.getPixelForValue(v));
      ctx.rotate(-Math.PI / 2);
      ctx.fillText(yTickLabels[i], 0, 0);
      ctx.restore();
    });
    // x axis
    const ay = Math.round(chartArea.bottom) + 0.5;
    ctx.beginPath();
    ctx.moveTo(x.getPixelForValue(xTicks[0]), ay);
    ctx.lineTo(x.getPixelForValue(xTicks[xTicks.length - 1]), ay);
    xTicks.forEach(v => {
      const px = Math.round(x.getPixelForValue(v)) + 0.5;
      ctx.moveTo(px, ay);
      ctx.lineTo(px, ay + 8);
    });
    ctx.stroke();
    ctx.font = '14px "Liberation Sans", Arial, sans-serif';
    xTicks.forEach(v => {
      ctx.fillText(v.toFixed(1), x.getPixelForValue(v), ay + 33);
    });
    ctx.restore();
  }
};

function makeChart(id, pts, thr, color, yMin, pad, geneFrom, geneTo) {
  return new Chart(document.getElementById(id), {
    type: 'scatter',
    data: {
      datasets: [
        {
          type: 'line',
          data: [{ x: xMin, y: thr }, { x: xMax, y: thr }],
          borderColor: '#ff5a5a',
          borderWidth: 1.6,
          pointRadius: 0,
          fill: false
        },
        {
          data: pts.map(p => ({ x: p[0], y: p[1] })),
          pointRadius: 2.65,
          pointBorderWidth: 0,
          backgroundColor: color,
          pointBackgroundColor: color,
          clip: 4
        }
      ]
    },
    options: {
      responsive: false,
      animation: false,
      events: [],
      layout: { padding: pad },
      plugins: {
        legend: { display: false },
        tooltip: { enabled: false },
        rAxes: { geneFrom: geneFrom, geneTo: geneTo }
      },
      scales: {
        x: { type: 'linear', display: false, min: xMin, max: xMax },
        y: { type: 'linear', display: false, min: yMin, max: 3.5 }
      }
    },
    plugins: [rAxes]
  });
}

makeChart('chartA', ptsA, thrA, '#0000ff', -0.129, { left: 81, right: 0, top: 61.4, bottom: 51 }, 3.10, null);
makeChart('chartB', ptsB, thrB, '#00ee00', -0.135, { left: 81, right: 0, top: 39.1, bottom: 76.3 }, null, -0.218);
</script>
</body>
</html>
